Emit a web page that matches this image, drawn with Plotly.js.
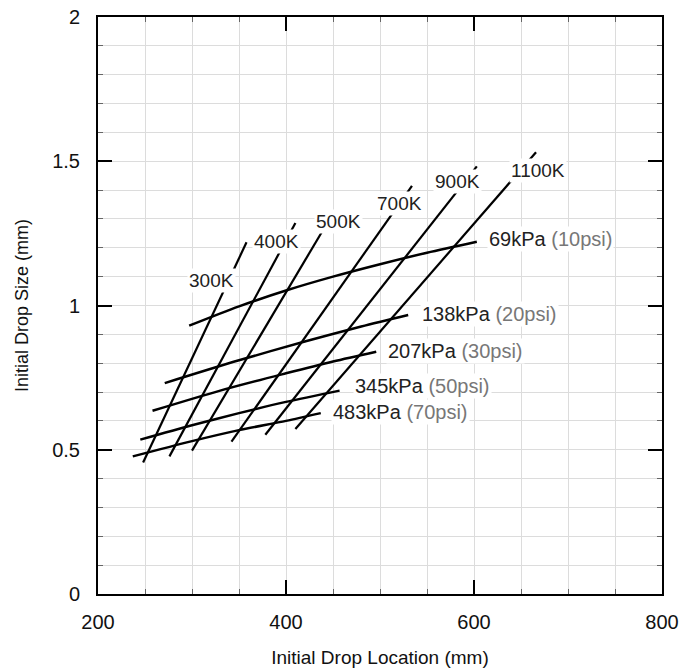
<!DOCTYPE html>
<html>
<head>
<meta charset="utf-8">
<script src="https://cdn.plot.ly/plotly-3.0.1.min.js"></script>
<style>html,body{margin:0;padding:0;background:#fff;}#chart{width:698px;height:668px;}</style>
</head>
<body>
<div id="chart"></div>
<script>
// Temperature lines (bottom point, top point)
const tempNames = ['300K', '400K', '500K', '700K', '900K', '1100K'];
const tempX = [
  [248, 358],
  [276, 410],
  [300, 438],
  [342, 534],
  [378, 603],
  [410, 666]
];
const tempY = [
  [0.456, 1.219],
  [0.477, 1.286],
  [0.497, 1.254],
  [0.528, 1.415],
  [0.552, 1.482],
  [0.572, 1.531]
];
const tempLabelX = [321, 390, 456, 521, 582, 668];
const tempLabelY = [1.086, 1.221, 1.290, 1.352, 1.429, 1.467];

// Pressure lines
const presNames = ['69kPa', '138kPa', '207kPa', '345kPa', '483kPa'];
const presPsi = ['(10psi)', '(20psi)', '(30psi)', '(50psi)', '(70psi)'];
const presX = [
  [297, 350, 400, 450, 500, 550, 603],
  [271, 350, 420, 480, 530],
  [258, 330, 400, 450, 496],
  [245, 300, 350, 400, 457],
  [237, 300, 350, 400, 437]
];
const presY = [
  [0.930, 0.997, 1.052, 1.100, 1.143, 1.183, 1.221],
  [0.731, 0.810, 0.875, 0.927, 0.967],
  [0.635, 0.705, 0.765, 0.806, 0.840],
  [0.535, 0.585, 0.627, 0.666, 0.705],
  [0.477, 0.530, 0.568, 0.600, 0.627]
];
const presLabelX = [614, 543, 506, 471, 448];
const presLabelY = [1.230, 0.970, 0.841, 0.720, 0.630];

const xTicks = [200, 400, 600, 800];
const yTicks = [0, 0.5, 1, 1.5, 2];
const yTickText = ['0', '0.5', '1', '1.5', '2'];

const FONT = 'Liberation Sans, Arial, sans-serif';

const traces = [];
presNames.forEach((n, i) => {
  traces.push({x: presX[i], y: presY[i], type: 'scatter', mode: 'lines', name: n,
    line: {color: '#000', width: 2.5, shape: 'spline', smoothing: 0.8}, hoverinfo: 'skip'});
});
tempNames.forEach((n, i) => {
  traces.push({x: tempX[i], y: tempY[i], type: 'scatter', mode: 'lines', name: n,
    line: {color: '#000', width: 2.2}, hoverinfo: 'skip'});
});

const annotations = [];
tempNames.forEach((n, i) => {
  annotations.push({x: tempLabelX[i], y: tempLabelY[i], xref: 'x', yref: 'y', text: n,
    showarrow: false, xanchor: 'center', yanchor: 'middle', bgcolor: '#fff', borderpad: 1,
    font: {family: FONT, size: 19, color: '#222'}});
});
presNames.forEach((n, i) => {
  annotations.push({x: presLabelX[i], y: presLabelY[i], xref: 'x', yref: 'y',
    text: n + ' <span style="color:#777">' + presPsi[i] + '</span>',
    showarrow: false, xanchor: 'left', yanchor: 'middle', bgcolor: '#fff', borderpad: 1,
    font: {family: FONT, size: 20, color: '#222'}});
});

const axisFont = {family: FONT, size: 20, color: '#111'};

const layout = {
  width: 698, height: 668,
  margin: {l: 98, r: 36, t: 17, b: 74},
  paper_bgcolor: '#fff', plot_bgcolor: '#fff',
  showlegend: false,
  xaxis: {
    range: [200, 800], tickvals: xTicks, ticktext: xTicks.map(String),
    ticks: 'inside', ticklen: 14, tickwidth: 2, tickcolor: '#000',
    showline: true, linewidth: 2, linecolor: '#000', mirror: 'allticks',
    showgrid: true, gridcolor: '#dcdcdc', gridwidth: 1, zeroline: false,
    minor: {dtick: 50, ticks: 'inside', ticklen: 5, tickcolor: '#666', tickwidth: 1,
            showgrid: true, gridcolor: '#dcdcdc', gridwidth: 1},
    tickfont: axisFont, ticklabelstandoff: 9,
    title: {text: 'Initial Drop Location (mm)', font: {family: FONT, size: 19, color: '#111'}, standoff: 22},
    automargin: false, fixedrange: true
  },
  yaxis: {
    range: [0, 2], tickvals: yTicks, ticktext: yTickText,
    ticks: 'inside', ticklen: 14, tickwidth: 2, tickcolor: '#000',
    showline: true, linewidth: 2, linecolor: '#000', mirror: 'allticks',
    showgrid: true, gridcolor: '#dcdcdc', gridwidth: 1, zeroline: false,
    minor: {dtick: 0.1, ticks: 'inside', ticklen: 5, tickcolor: '#666', tickwidth: 1,
            showgrid: true, gridcolor: '#dcdcdc', gridwidth: 1},
    tickfont: axisFont, ticklabelstandoff: 12,
    title: {text: 'Initial Drop Size (mm)', font: {family: FONT, size: 18, color: '#111'}, standoff: 19},
    automargin: false, fixedrange: true
  },
  annotations: annotations
};

Plotly.newPlot('chart', traces, layout, {displayModeBar: false, staticPlot: true});
</script>
</body>
</html>
